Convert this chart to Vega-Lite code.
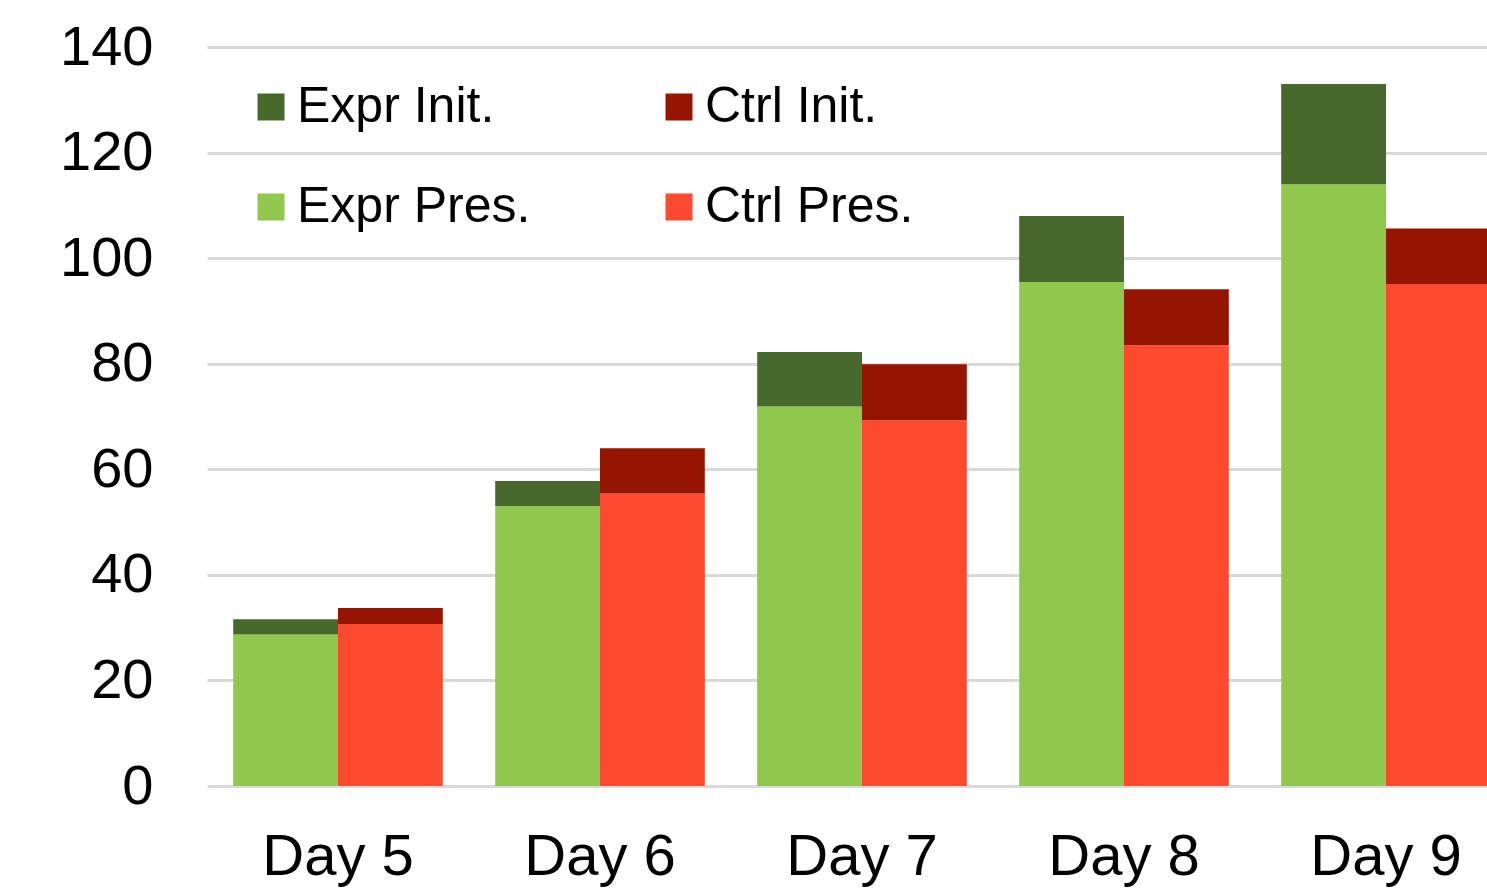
{
  "$schema": "https://vega.github.io/schema/vega-lite/v6.json",
  "width": 1280,
  "height": 739,
  "autosize": "none",
  "padding": {"left": 207, "top": 47, "right": 0, "bottom": 106},
  "background": "white",
  "config": {
    "view": {"stroke": null},
    "font": "Liberation Sans",
    "axis": {"labelFont": "Liberation Sans", "labelColor": "#000000"},
    "legend": {"labelFont": "Liberation Sans"}
  },
  "data": {
    "values": [
      {"day": "Day 5", "group": "Expr", "series": "Expr Pres.", "part": "Pres", "value": 28.7},
      {"day": "Day 5", "group": "Expr", "series": "Expr Init.", "part": "Init", "value": 2.9},
      {"day": "Day 5", "group": "Ctrl", "series": "Ctrl Pres.", "part": "Pres", "value": 30.7},
      {"day": "Day 5", "group": "Ctrl", "series": "Ctrl Init.", "part": "Init", "value": 3.0},
      {"day": "Day 6", "group": "Expr", "series": "Expr Pres.", "part": "Pres", "value": 53.0},
      {"day": "Day 6", "group": "Expr", "series": "Expr Init.", "part": "Init", "value": 4.8},
      {"day": "Day 6", "group": "Ctrl", "series": "Ctrl Pres.", "part": "Pres", "value": 55.4},
      {"day": "Day 6", "group": "Ctrl", "series": "Ctrl Init.", "part": "Init", "value": 8.6},
      {"day": "Day 7", "group": "Expr", "series": "Expr Pres.", "part": "Pres", "value": 71.9},
      {"day": "Day 7", "group": "Expr", "series": "Expr Init.", "part": "Init", "value": 10.3},
      {"day": "Day 7", "group": "Ctrl", "series": "Ctrl Pres.", "part": "Pres", "value": 69.3},
      {"day": "Day 7", "group": "Ctrl", "series": "Ctrl Init.", "part": "Init", "value": 10.6},
      {"day": "Day 8", "group": "Expr", "series": "Expr Pres.", "part": "Pres", "value": 95.5},
      {"day": "Day 8", "group": "Expr", "series": "Expr Init.", "part": "Init", "value": 12.5},
      {"day": "Day 8", "group": "Ctrl", "series": "Ctrl Pres.", "part": "Pres", "value": 83.5},
      {"day": "Day 8", "group": "Ctrl", "series": "Ctrl Init.", "part": "Init", "value": 10.6},
      {"day": "Day 9", "group": "Expr", "series": "Expr Pres.", "part": "Pres", "value": 114.0},
      {"day": "Day 9", "group": "Expr", "series": "Expr Init.", "part": "Init", "value": 19.0},
      {"day": "Day 9", "group": "Ctrl", "series": "Ctrl Pres.", "part": "Pres", "value": 95.1},
      {"day": "Day 9", "group": "Ctrl", "series": "Ctrl Init.", "part": "Init", "value": 10.5}
    ]
  },
  "mark": {"type": "bar", "clip": true},
  "encoding": {
    "x": {
      "field": "day",
      "type": "nominal",
      "sort": ["Day 5", "Day 6", "Day 7", "Day 8", "Day 9"],
      "scale": {"range": [0, 1310], "paddingInner": 0.2, "paddingOuter": 0.1},
      "axis": {
        "title": null,
        "domain": false,
        "ticks": false,
        "labelAngle": 0,
        "labelFontSize": 58,
        "labelPadding": 42,
        "labelColor": "#000000"
      }
    },
    "xOffset": {
      "field": "group",
      "type": "nominal",
      "sort": ["Expr", "Ctrl"],
      "scale": {"paddingInner": 0, "paddingOuter": 0}
    },
    "y": {
      "field": "value",
      "type": "quantitative",
      "stack": "zero",
      "scale": {"domain": [0, 140], "nice": false},
      "axis": {
        "title": null,
        "domain": false,
        "ticks": false,
        "values": [0, 20, 40, 60, 80, 100, 120, 140],
        "labelFontSize": 56,
        "labelPadding": 54,
        "labelColor": "#000000",
        "grid": true,
        "gridColor": "#d9d9d9",
        "gridWidth": 3
      }
    },
    "color": {
      "field": "series",
      "type": "nominal",
      "scale": {
        "domain": ["Expr Init.", "Ctrl Init.", "Expr Pres.", "Ctrl Pres."],
        "range": ["#48692c", "#951500", "#8fc84d", "#fd4a2f"]
      },
      "legend": {
        "title": null,
        "orient": "none",
        "legendX": 39,
        "legendY": 35,
        "columns": 2,
        "direction": "horizontal",
        "symbolType": "square",
        "symbolSize": 729,
        "symbolStrokeWidth": 0,
        "symbolOpacity": 1,
        "labelFontSize": 50,
        "labelColor": "#000000",
        "labelOffset": 1,
        "columnPadding": 123,
        "rowPadding": 50,
        "padding": 0,
        "labelLimit": 400
      }
    },
    "order": {"field": "part", "sort": "descending"}
  }
}
